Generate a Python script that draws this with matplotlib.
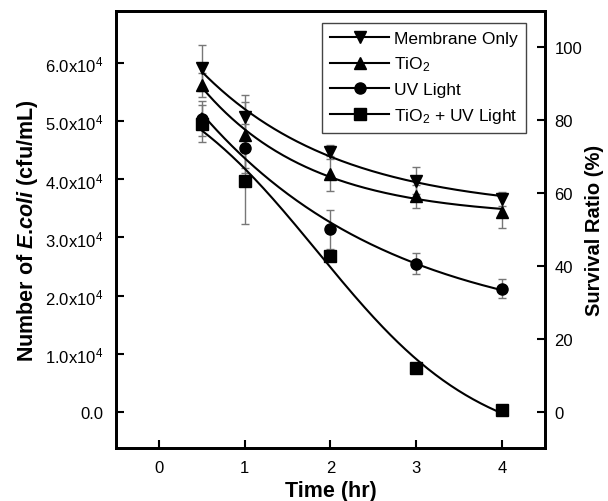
import numpy as np
import matplotlib
matplotlib.use("Agg")
import matplotlib.pyplot as plt

plt.rcParams['font.family'] = ['Liberation Sans', 'DejaVu Sans']
plt.rcParams['mathtext.fontset'] = 'custom'
plt.rcParams['mathtext.rm'] = 'Liberation Sans'
plt.rcParams['mathtext.it'] = 'Liberation Sans:italic:bold'
plt.rcParams['mathtext.bf'] = 'Liberation Sans:bold'
plt.rcParams['mathtext.default'] = 'regular'

# Data (counts in cfu/mL)
time = [0.5, 1, 2, 3, 4]
membrane = [59200, 50800, 44800, 39800, 36700]
membrane_err = [4000, 3700, 1200, 2300, 1200]
tio2 = [56300, 47700, 41000, 37100, 34400]
tio2_err = [2000, 5700, 3000, 2000, 2800]
uv = [50500, 45400, 31400, 25500, 21200]
uv_err = [3000, 4200, 3300, 1800, 1700]
tio2_uv = [49600, 39700, 26800, 7500, 300]
tio2_uv_err = [3200, 7300, 0, 0, 0]

labels = ['Membrane Only', 'TiO$_2$', 'UV Light', 'TiO$_2$ + UV Light']
markers = ['v', '^', 'o', 's']
yticks = [0, 10000, 20000, 30000, 40000, 50000, 60000]
yticklabels = ['0.0', '1.0x10$^4$', '2.0x10$^4$', '3.0x10$^4$', '4.0x10$^4$', '5.0x10$^4$', '6.0x10$^4$']
xticks = [0, 1, 2, 3, 4]
rticks = [0, 20, 40, 60, 80, 100]
scale = 628.0  # counts per percent


def exp_fit(x, y):
    x = np.asarray(x, float); y = np.asarray(y, float)
    best = None
    for t in np.linspace(0.2, 20, 2000):
        M = np.column_stack([np.ones_like(x), np.exp(-x / t)])
        c, *_ = np.linalg.lstsq(M, y, rcond=None)
        r = np.sum((M @ c - y) ** 2)
        if best is None or r < best[0]:
            best = (r, t, c)
    _, t, c = best
    return lambda xx: c[0] + c[1] * np.exp(-xx / t)


def boltzmann_fit(x, y):
    x = np.asarray(x, float); y = np.asarray(y, float)
    best = None
    for x0 in np.linspace(0.5, 4.0, 141):
        for dx in np.linspace(0.2, 2.0, 91):
            s = 1.0 / (1.0 + np.exp((x - x0) / dx))
            M = np.column_stack([np.ones_like(x), s])
            c, *_ = np.linalg.lstsq(M, y, rcond=None)
            r = np.sum((M @ c - y) ** 2)
            if best is None or r < best[0]:
                best = (r, x0, dx, c)
    _, x0, dx, c = best
    return lambda xx: c[0] + c[1] / (1.0 + np.exp((xx - x0) / dx))


fig = plt.figure(figsize=(6.08, 5.02), dpi=100)
ax = fig.add_axes([0.191, 0.1056, 0.705, 0.871])

xs = np.linspace(0.5, 4, 200)
series = [(membrane, membrane_err), (tio2, tio2_err), (uv, uv_err), (tio2_uv, tio2_uv_err)]
handles = []
for i, ((y, e), m, lab) in enumerate(zip(series, markers, labels)):
    f = exp_fit(time, y) if i < 3 else boltzmann_fit(time, y)
    ys = f(xs)
    ax.plot(xs, ys, color='black', lw=1.5, zorder=2)
    ax.errorbar(time, y, yerr=[ee if ee > 0 else np.nan for ee in e], fmt='none',
                ecolor='#777777', elinewidth=1, capsize=3, capthick=1, zorder=1)
    ax.plot(time, y, linestyle='none', marker=m, color='black', markersize=8, zorder=3)
    h, = ax.plot([], [], color='black', lw=1.5, marker=m, markersize=8, label=lab)
    handles.append(h)

ax.set_xlim(-0.5, 4.5)
ax.set_ylim(-10 * scale, 110 * scale)
ax.set_xticks(xticks)
ax.set_yticks(yticks)
ax.set_yticklabels(yticklabels)
ax.tick_params(axis='y', direction='in', length=6, width=1.5, labelsize=12, pad=9)
ax.tick_params(axis='x', direction='in', length=6, width=1.5, labelsize=12, pad=9)
for s in ax.spines.values():
    s.set_linewidth(2)

ax2 = ax.twinx()
ax2.set_ylim(-10, 110)
ax2.set_yticks(rticks)
ax2.tick_params(direction='in', length=6, width=1.5, labelsize=12, pad=7)
for s in ax2.spines.values():
    s.set_linewidth(2)

ax.set_xlabel('Time (hr)', fontsize=15.5, fontweight='bold', labelpad=3)
ax.set_ylabel(r'Number of $\mathit{E}$.$\mathit{coli}$ (cfu/mL)', fontsize=15.5,
              fontweight='bold', labelpad=4)
ax2.set_ylabel('Survival Ratio (%)', fontsize=14.5, fontweight='bold', labelpad=2)

leg = ax.legend(handles=handles, loc='upper right', bbox_to_anchor=(0.956, 0.972),
                borderaxespad=0, fontsize=12.5, handlelength=3.4, fancybox=False, framealpha=1,
                edgecolor='#444444', borderpad=0.45, labelspacing=0.5, handletextpad=0.3)
leg.get_frame().set_linewidth(1)

fig.savefig('out.png', dpi=100)
